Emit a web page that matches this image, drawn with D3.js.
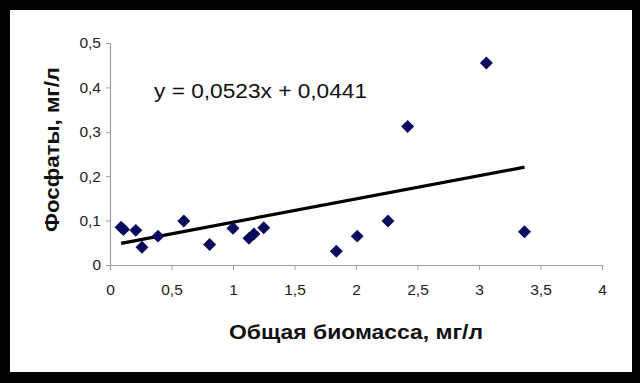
<!DOCTYPE html>
<html><head><meta charset="utf-8">
<script src="https://cdn.jsdelivr.net/npm/d3@7"></script>
<style>html,body{margin:0;padding:0;background:#000;}svg{display:block;}</style>
</head><body>
<script>
const biomass = [0.09, 0.11, 0.21, 0.26, 0.39, 0.60, 0.81, 1.00, 1.13, 1.17, 1.25, 1.84, 2.01, 2.26, 2.42, 3.06, 3.37];
const phosphates = [0.085, 0.080, 0.078, 0.040, 0.065, 0.099, 0.046, 0.083, 0.060, 0.070, 0.084, 0.031, 0.065, 0.099, 0.312, 0.455, 0.075];
const xTicks = [0, 0.5, 1, 1.5, 2, 2.5, 3, 3.5, 4];
const yTicks = [0, 0.1, 0.2, 0.3, 0.4, 0.5];
const slope = 0.0523, intercept = 0.0441;
const equationLabel = "y = 0,0523x + 0,0441";
const xTitle = "Общая биомасса, мг/л";
const yTitle = "Фосфаты, мг/л";

const W = 640, H = 383;
const svg = d3.select("body").append("svg").attr("width", W).attr("height", H);
svg.append("rect").attr("width", W).attr("height", H).attr("fill", "#000");
svg.append("rect").attr("x", 10).attr("y", 10).attr("width", 622).attr("height", 362).attr("fill", "#fff");

const x = d3.scaleLinear().domain([0, 4]).range([110, 602]);
const y = d3.scaleLinear().domain([0, 0.5]).range([265, 43]);
const fmt = d => String(d).replace(".", ",");
const font = "Liberation Sans, Arial, sans-serif";

const gx = svg.append("g").attr("transform", "translate(0,265)")
  .call(d3.axisBottom(x).tickValues(xTicks).tickFormat(fmt).tickSize(5).tickPadding(14));
const gy = svg.append("g").attr("transform", "translate(110,0)")
  .call(d3.axisLeft(y).tickValues(yTicks).tickFormat(fmt).tickSize(4).tickPadding(5));
[gx, gy].forEach(g => {
  g.select(".domain").attr("stroke", "#a0a0a0").attr("stroke-width", 1.2);
  g.selectAll(".tick line").attr("stroke", "#a0a0a0");
  g.selectAll(".tick text").attr("fill", "#222").attr("font-family", font).attr("font-size", 15.5);
});

// trend line
const x0 = d3.min(biomass), x1 = d3.max(biomass);
svg.append("line")
  .attr("x1", x(x0)).attr("y1", y(slope * x0 + intercept))
  .attr("x2", x(x1)).attr("y2", y(slope * x1 + intercept))
  .attr("stroke", "#000").attr("stroke-width", 3.2);

// points
const sym = d3.symbol().type(d3.symbolSquare).size(84);
svg.append("g").selectAll("path").data(biomass.map((b, i) => [b, phosphates[i]]))
  .join("path")
  .attr("d", sym)
  .attr("transform", d => `translate(${x(d[0])},${y(d[1])}) rotate(45)`)
  .attr("fill", "#0b0b5e");

// equation
svg.append("text").attr("x", 154).attr("y", 97.5)
  .attr("font-family", font).attr("font-size", 20).attr("fill", "#111")
  .attr("textLength", 213).attr("lengthAdjust", "spacingAndGlyphs")
  .text(equationLabel);

// axis titles
svg.append("text").attr("x", 229).attr("y", 339)
  .attr("font-family", font).attr("font-size", 20).attr("font-weight", "bold").attr("fill", "#111")
  .attr("textLength", 254).attr("lengthAdjust", "spacingAndGlyphs")
  .text(xTitle);
svg.append("text").attr("transform", "translate(59,232) rotate(-90)")
  .attr("font-family", font).attr("font-size", 20).attr("font-weight", "bold").attr("fill", "#111")
  .attr("textLength", 165).attr("lengthAdjust", "spacingAndGlyphs")
  .text(yTitle);
</script>
</body></html>
